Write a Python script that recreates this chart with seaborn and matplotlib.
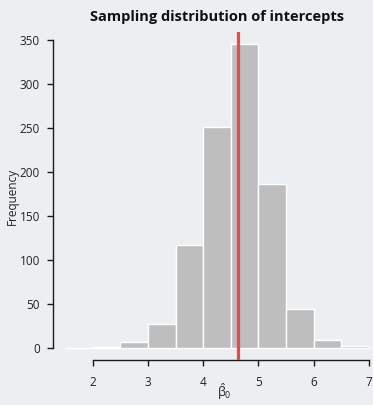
import numpy as np
import matplotlib
matplotlib.use("Agg")
import matplotlib.pyplot as plt
import seaborn as sns

# histogram (bin width 0.5)
bin_edges = [1.5, 2.0, 2.5, 3.0, 3.5, 4.0, 4.5, 5.0, 5.5, 6.0, 6.5, 7.0]
bin_counts = [0, 1, 7, 27, 117, 251, 345, 186, 44, 9, 2]
true_intercept = 4.63

x_ticks = [2, 3, 4, 5, 6, 7]
y_ticks = [0, 50, 100, 150, 200, 250, 300, 350]

bg = "#ECEFF1"

sns.set_theme(style="ticks")
plt.rcParams["font.family"] = ["Open Sans", "DejaVu Sans"]
plt.rcParams["mathtext.default"] = "regular"
plt.rcParams["axes.edgecolor"] = "#1a1a1a"
plt.rcParams["xtick.color"] = "#1a1a1a"
plt.rcParams["ytick.color"] = "#1a1a1a"

fig = plt.figure(figsize=(3.73, 4.05), dpi=100, facecolor=bg)
ax = fig.add_axes([53 / 373, 45 / 405, 328 / 373, 328 / 405])
ax.set_facecolor(bg)

centers = [(a + b) / 2 for a, b in zip(bin_edges[:-1], bin_edges[1:])]
sns.histplot(x=centers, weights=bin_counts, bins=bin_edges, ax=ax,
             color="#BEBEBE", edgecolor="white", linewidth=1.0, alpha=1.0)

ax.axvline(true_intercept, color="#CD5555", lw=2.3, zorder=5)

ax.set_xlim(1.28, 7.22)
ax.set_ylim(-13.8, 358.8)
ax.set_xticks(x_ticks)
ax.set_yticks(y_ticks)
ax.tick_params(axis="both", direction="out", length=4.5, width=1.0,
               labelsize=8.5, pad=5, labelcolor="#222222")
ax.tick_params(axis="x", pad=7)

sns.despine(ax=ax)
ax.spines["left"].set_bounds(0, 350)
ax.spines["bottom"].set_bounds(2, 7)
ax.spines["left"].set_linewidth(1.0)
ax.spines["bottom"].set_linewidth(1.0)

ax.set_ylabel("Frequency", fontsize=8.5, color="#222222")
ax.yaxis.set_label_coords(-0.104, 0.5)
ax.set_xlabel(r"$\hat{\beta}_0$", fontsize=9, color="#222222")
ax.xaxis.set_label_coords(0.522, -0.064)
ax.set_title("Sampling distribution of intercepts", fontsize=10.5,
             fontweight="bold", color="#111111", pad=8)

fig.savefig("out.png", dpi=100, facecolor=bg)
